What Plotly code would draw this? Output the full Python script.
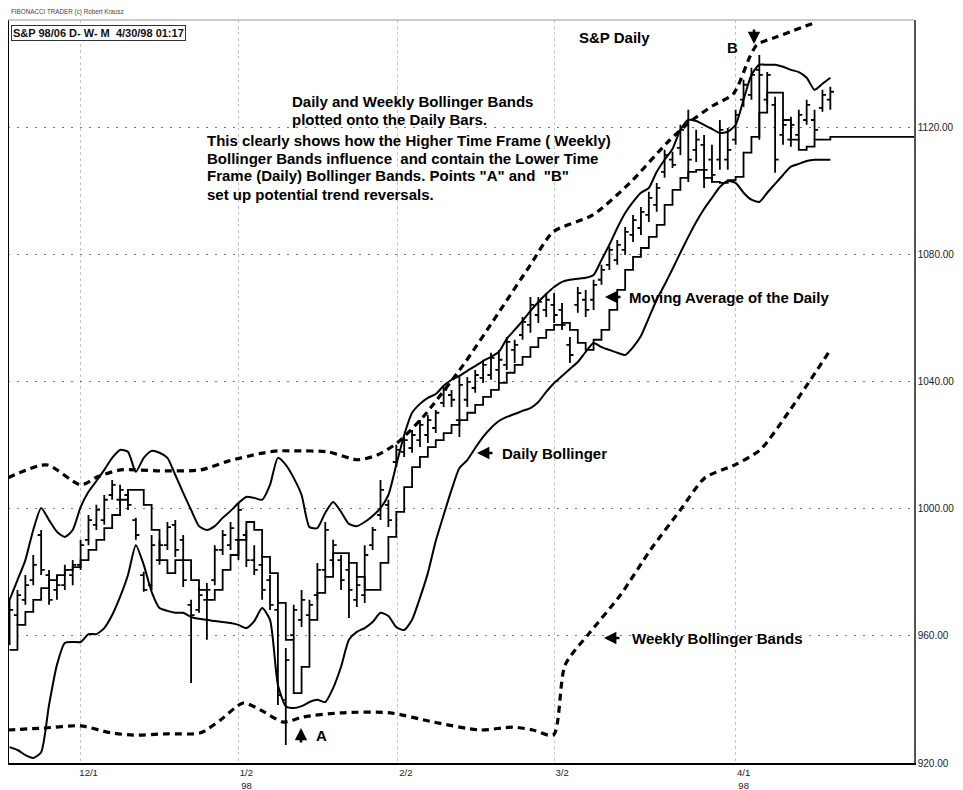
import plotly.graph_objects as go

# ---------------- data ----------------
bar_high = [971.4, 974.5, 979.2, 985.5, 993.4, 980.8, 979.2, 982.4, 983.9, 990.3,
            998.1, 1001.3, 1004.4, 1009.1, 1007.6, 1006.0, 997.2, 980.2, 991.8, 990.3,
            995.9, 996.5, 991.8, 971.4, 975.4, 976.7, 988.6, 993.4, 995.9, 1001.9,
            993.4, 988.6, 985.5, 979.2, 971.4, 956.2, 969.8, 974.5, 971.4, 983.0,
            995.9, 990.3, 985.5, 983.0, 978.6, 988.6, 994.3, 1009.1, 1002.9, 1020.2,
            1022.7, 1024.9, 1028.0, 1029.6, 1031.2, 1038.5, 1037.5, 1041.6, 1041.6, 1043.8,
            1047.0, 1049.2, 1050.1, 1054.2, 1053.3, 1060.5, 1066.8, 1066.8, 1068.0, 1068.0,
            1064.9, 1054.2, 1069.9, 1069.0, 1072.2, 1076.9, 1082.6, 1084.7, 1088.8, 1092.6,
            1095.1, 1099.9, 1102.7, 1113.1, 1112.5, 1121.0, 1125.7, 1119.4, 1117.8, 1114.7,
            1122.5, 1120.0, 1125.7, 1135.2, 1139.0, 1143.0, 1137.6, 1129.8, 1122.5, 1123.5,
            1125.7, 1128.9, 1125.7, 1132.0, 1133.0]
bar_low = [957.2, 963.5, 969.8, 976.0, 979.2, 969.8, 971.4, 974.5, 976.0, 980.8,
           988.6, 993.4, 995.0, 1002.9, 1001.3, 999.7, 990.3, 973.9, 974.5, 982.4,
           987.1, 984.9, 975.4, 945.2, 967.3, 958.8, 976.0, 985.5, 987.1, 983.9,
           981.7, 979.2, 971.4, 968.2, 938.3, 925.7, 958.8, 962.8, 965.1, 971.4,
           978.6, 981.7, 974.5, 965.7, 969.1, 970.4, 987.1, 996.5, 994.3, 1013.2,
           1016.4, 1017.7, 1019.5, 1020.8, 1023.9, 1032.1, 1032.1, 1022.7, 1032.1, 1036.6,
           1039.7, 1040.7, 1039.7, 1043.8, 1046.0, 1053.3, 1055.5, 1058.6, 1060.5, 1058.6,
           1056.4, 1046.0, 1061.8, 1060.5, 1062.7, 1070.6, 1075.3, 1076.9, 1080.0, 1084.1,
           1086.3, 1090.4, 1093.6, 1104.3, 1107.4, 1111.5, 1103.0, 1109.3, 1101.1, 1102.7,
           1106.8, 1106.8, 1114.7, 1126.6, 1128.9, 1116.3, 1127.3, 1105.9, 1114.7, 1114.1,
           1116.3, 1121.0, 1116.3, 1125.1, 1125.7]
bar_open = [958.8, 966.6, 971.4, 977.6, 991.8, 979.2, 974.5, 976.0, 979.2, 982.4,
            990.3, 995.0, 996.5, 1004.4, 1002.9, 1004.4, 996.5, 979.2, 976.0, 983.9,
            988.6, 995.0, 990.3, 969.8, 968.2, 971.4, 977.6, 987.1, 988.6, 990.3,
            991.8, 983.9, 982.4, 977.6, 968.2, 939.9, 960.3, 965.1, 966.6, 972.9,
            980.8, 983.9, 983.9, 980.8, 971.4, 972.9, 988.6, 998.1, 1001.3, 1014.8,
            1018.0, 1019.2, 1021.7, 1023.3, 1025.5, 1033.4, 1035.9, 1028.0, 1034.4, 1038.1,
            1041.3, 1042.2, 1043.8, 1045.4, 1050.1, 1054.8, 1058.0, 1061.1, 1062.7, 1064.3,
            1062.7, 1051.7, 1064.3, 1065.9, 1065.9, 1072.2, 1076.9, 1078.4, 1081.6, 1086.3,
            1088.5, 1092.6, 1095.8, 1106.2, 1110.0, 1113.7, 1121.0, 1113.1, 1114.7, 1110.0,
            1110.0, 1110.0, 1116.3, 1128.9, 1130.4, 1138.3, 1128.9, 1127.3, 1117.8, 1116.3,
            1117.8, 1122.5, 1122.5, 1126.3, 1128.9]
bar_close = [968.2, 972.9, 976.0, 982.4, 980.8, 971.4, 976.0, 980.8, 982.4, 988.6,
             996.5, 999.7, 1002.9, 1007.6, 1006.0, 1001.3, 991.8, 974.5, 988.6, 988.6,
             994.3, 987.1, 977.6, 966.6, 972.9, 974.5, 987.1, 991.8, 994.0, 999.7,
             983.9, 980.8, 974.5, 969.8, 941.4, 952.4, 968.2, 971.4, 969.8, 980.8,
             993.4, 988.6, 977.6, 974.5, 976.0, 985.5, 993.4, 1006.0, 996.5, 1018.6,
             1021.7, 1023.3, 1026.5, 1028.0, 1030.3, 1037.5, 1034.4, 1039.1, 1040.0, 1042.2,
             1045.4, 1047.6, 1047.0, 1052.6, 1051.7, 1058.9, 1064.3, 1065.2, 1065.9, 1061.1,
             1058.0, 1048.5, 1068.0, 1062.7, 1070.6, 1075.3, 1081.6, 1083.2, 1087.3, 1091.0,
             1093.6, 1098.0, 1101.1, 1111.5, 1108.4, 1119.4, 1110.0, 1116.3, 1106.8, 1105.2,
             1119.4, 1113.1, 1124.1, 1133.6, 1136.7, 1136.7, 1136.7, 1110.0, 1121.0, 1121.0,
             1124.1, 1127.3, 1119.4, 1130.4, 1131.4]

moving_avg = [955.6, 963.5, 967.6, 971.4, 975.1, 977.6, 979.2, 980.8, 981.7, 983.9,
              987.1, 990.3, 994.0, 998.1, 1002.9, 1006.0, 1006.0, 1001.3, 993.4, 983.9,
              979.8, 983.9, 983.9, 977.6, 974.5, 971.4, 974.5, 980.8, 985.5, 990.3,
              995.9, 993.4, 984.9, 979.8, 970.4, 958.8, 942.0, 950.3, 965.1, 973.6,
              978.6, 986.1, 986.1, 983.0, 978.6, 974.5, 974.5, 983.0, 991.2, 999.1,
              1006.9, 1013.2, 1016.4, 1019.5, 1021.7, 1023.9, 1026.5, 1028.0, 1030.3, 1032.8,
              1035.3, 1037.5, 1039.7, 1042.9, 1045.4, 1047.9, 1051.0, 1053.9, 1056.4, 1058.0,
              1058.6, 1056.4, 1052.3, 1050.1, 1053.3, 1056.4, 1062.7, 1069.0, 1075.3, 1079.4,
              1082.2, 1085.7, 1089.5, 1095.8, 1100.5, 1104.3, 1106.2, 1106.8, 1104.3, 1103.0,
              1102.7, 1103.6, 1104.6, 1112.2, 1117.2, 1124.8, 1131.1, 1131.1, 1122.5, 1116.3,
              1113.1, 1114.1, 1116.3, 1116.3, 1117.2]

daily_upper = [971.4, 977.6, 983.9, 993.4, 1000.3, 996.5, 992.8, 991.2, 993.4, 1000.6,
               1005.4, 1008.8, 1012.3, 1016.1, 1018.6, 1018.0, 1011.7, 1016.1, 1018.3, 1017.7,
               1016.1, 1010.7, 1005.1, 999.7, 994.6, 993.4, 994.6, 997.2, 999.4, 1001.9,
               1003.8, 1003.5, 1002.9, 1007.6, 1016.1, 1013.9, 1009.8, 1004.4, 994.3, 994.0,
               998.8, 1002.2, 999.1, 995.3, 994.6, 995.9, 997.8, 1000.3, 1004.4, 1013.9,
               1023.3, 1030.3, 1033.1, 1035.0, 1036.2, 1038.8, 1040.7, 1041.9, 1043.5, 1045.0,
               1046.6, 1047.9, 1049.5, 1053.6, 1056.4, 1059.2, 1062.4, 1065.2, 1067.7, 1069.9,
               1071.5, 1072.2, 1072.5, 1072.8, 1073.7, 1078.4, 1083.2, 1088.5, 1093.2, 1096.7,
               1099.6, 1101.1, 1106.2, 1110.0, 1113.4, 1119.4, 1122.5, 1122.2, 1121.0, 1119.7,
               1118.4, 1118.8, 1121.0, 1128.9, 1136.7, 1139.9, 1139.9, 1139.9, 1139.3, 1138.3,
               1137.6, 1135.8, 1132.0, 1133.9, 1135.8]
daily_lower = [925.0, 924.1, 922.5, 921.6, 923.4, 938.3, 950.9, 957.8, 958.1, 958.1,
               960.6, 960.6, 962.5, 966.6, 972.3, 979.2, 988.6, 982.4, 973.9, 968.8,
               967.9, 967.3, 967.3, 966.0, 965.4, 965.1, 964.7, 964.4, 964.1, 963.5,
               962.5, 964.7, 968.8, 965.1, 944.6, 937.9, 937.3, 937.9, 939.2, 939.9,
               939.2, 943.6, 950.3, 958.8, 961.3, 962.5, 964.4, 967.3, 966.3, 962.8,
               961.9, 965.1, 972.0, 979.8, 989.9, 998.1, 1006.0, 1012.9, 1015.4, 1019.2,
               1022.7, 1025.5, 1027.7, 1029.0, 1029.9, 1030.9, 1031.8, 1033.7, 1036.9, 1039.7,
               1041.9, 1044.1, 1046.3, 1049.5, 1052.3, 1051.0, 1050.1, 1049.2, 1048.5, 1051.0,
               1054.5, 1060.2, 1065.9, 1070.6, 1075.6, 1080.7, 1085.7, 1090.4, 1094.5, 1098.0,
               1101.4, 1103.3, 1102.7, 1099.6, 1097.4, 1096.7, 1099.6, 1102.4, 1105.2, 1107.8,
               1108.7, 1109.6, 1110.0, 1110.0, 1110.0]

weekly_upper_x = [-0.2, 4.7, 9.0, 11.2, 14.1, 19.1, 24.2, 27.6, 31.8, 34.0, 36.0, 40.3,
                  44.1, 46.6, 49.1, 52.4, 57.5, 62.2, 66.0, 68.9, 73.9, 78.6, 83.3, 86.2,
                  89.1, 91.7, 93.8, 94.7, 97.2, 102.3]
weekly_upper = [1009.8, 1013.9, 1007.6, 1010.2, 1012.3, 1012.0, 1012.3, 1015.0, 1017.5, 1018.3,
                1018.3, 1018.0, 1015.5, 1017.0, 1020.8, 1029.0, 1045.4, 1062.7, 1076.9, 1087.3,
                1092.6, 1102.7, 1115.3, 1121.9, 1127.0, 1130.7, 1142.4, 1146.2, 1148.7, 1153.4]
weekly_lower_x = [-0.2, 4.3, 9.0, 12.8, 15.7, 20.0, 24.2, 26.7, 29.6, 31.8, 34.7, 37.2,
                  41.9, 48.2, 53.7, 59.6, 63.8, 66.3, 68.9, 70.4, 73.6, 77.4, 81.2, 85.0,
                  88.1, 91.9, 95.1, 98.9, 104.0]
weekly_lower = [930.4, 931.0, 931.7, 929.5, 928.8, 929.2, 929.5, 933.5, 938.9, 936.7,
                932.9, 934.5, 935.8, 935.8, 932.9, 930.4, 931.3, 930.4, 928.8, 950.9,
                961.3, 972.9, 987.1, 999.7, 1009.8, 1013.9, 1018.6, 1031.2, 1050.1]

tick_pos = [9, 29, 49.2, 69, 92]
tick_text = ["12/1", "1/2<br>98", "2/2", "3/2", "4/1<br>98"]
price_ticks = [920, 960, 1000, 1040, 1080, 1120]

X_MIN, X_MAX = -0.2, 114.6
Y_MIN, Y_MAX = 920, 1154

# ---------------- figure ----------------
idx = list(range(len(bar_high)))
fig = go.Figure()

for wx, wy in ((weekly_upper_x, weekly_upper), (weekly_lower_x, weekly_lower)):
    fig.add_trace(go.Scatter(x=wx, y=wy, mode="lines", hoverinfo="skip",
                             line=dict(color="black", width=3.2, dash="7px,5px",
                                       shape="spline", smoothing=0.7)))

for band in (daily_upper, daily_lower):
    fig.add_trace(go.Scatter(x=idx, y=band, mode="lines", hoverinfo="skip",
                             line=dict(color="black", width=2, shape="spline", smoothing=0.6)))

fig.add_trace(go.Scatter(x=idx + [X_MAX], y=moving_avg + [moving_avg[-1]], mode="lines",
                         hoverinfo="skip", line=dict(color="black", width=1.8, shape="hv")))

fig.add_trace(go.Ohlc(x=idx, open=bar_open, high=bar_high, low=bar_low, close=bar_close,
                      increasing=dict(line=dict(color="black", width=1.8)),
                      decreasing=dict(line=dict(color="black", width=1.8)),
                      tickwidth=0.45, hoverinfo="skip"))

FONT = "Liberation Sans, Arial, DejaVu Sans, sans-serif"

# page -> paper helpers (plot area spans page x 8..914, y 20..763)
def px(xp):
    return (xp - 8) / 906.0


def py(yp):
    return (763 - yp) / 743.0


def label(text, x, y, size=15, anchor="left", color="black", **kw):
    d = dict(text=text, x=px(x), y=py(y), xanchor=anchor, yanchor="middle",
             xref="paper", yref="paper", showarrow=False,
             font=dict(size=size, color=color, family=FONT))
    d.update(kw)
    return d


def arrow(tip_x, tip_y, dx, dy):
    return dict(text="", x=px(tip_x), y=py(tip_y), xref="paper", yref="paper",
                showarrow=True, ax=dx, ay=dy, arrowhead=2, arrowsize=0.95,
                arrowwidth=2.6, arrowcolor="black")


annos = [
    label("FIBONACCI TRADER (c) Robert Krausz", 9, 12, size=6.3, color="#444"),
    label("<b>S&P 98/06 D- W- M  4/30/98 01:17</b>", 11, 33, size=11, color="#111",
          bordercolor="#333", borderwidth=1, borderpad=1, bgcolor="white"),
    label("<b>S&P Daily</b>", 614, 38, anchor="center"),
    label("<b>B</b>", 732, 48, anchor="center"),
    label("<b>Daily and Weekly Bollinger Bands</b>", 290, 101),
    label("<b>plotted onto the Daily Bars.</b>", 290, 119),
    label("<b>This clearly shows how the Higher Time Frame ( Weekly)</b>", 205, 140),
    label("<b>Bollinger Bands influence  and contain the Lower Time</b>", 205, 158),
    label("<b>Frame (Daily) Bollinger Bands. Points \"A\" and  \"B\"</b>", 205, 176),
    label("<b>set up potential trend reversals.</b>", 205, 194),
    label("<b>Moving Average of the Daily</b>", 627, 297),
    label("<b>Daily Bollinger</b>", 500, 453),
    label("<b>Weekly Bollinger Bands</b>", 630, 638),
    label("<b>A</b>", 321, 735, anchor="center"),
    arrow(605, 297, 17, 0),
    arrow(477, 453, 17, 0),
    arrow(604, 638, 17, 0),
    arrow(301, 728, 0, 16),
    arrow(754, 44, 0, -16),
]

shapes = [
    dict(type="line", xref="paper", yref="paper", x0=0, x1=0, y0=0, y1=1,
         line=dict(color="black", width=2)),
    dict(type="line", xref="paper", yref="paper", x0=0, x1=1, y0=1, y1=1,
         line=dict(color="#999", width=1)),
]

# the page body adds an 8px margin, so the figure is sized 8px smaller
fig.update_layout(
    width=955, height=782,
    margin=dict(l=0, r=49, t=12, b=27, autoexpand=False),
    paper_bgcolor="white", plot_bgcolor="white",
    showlegend=False,
    font=dict(family=FONT, color="#222"),
    annotations=annos, shapes=shapes,
    xaxis=dict(range=[X_MIN, X_MAX], tickmode="array", tickvals=tick_pos, ticktext=tick_text,
               showgrid=True, gridcolor="#c4c4c4", griddash="dot", gridwidth=1,
               showline=True, linecolor="black", linewidth=2, zeroline=False, automargin=False,
               ticks="", tickfont=dict(size=9.5, color="#222"), ticklabelshift=8,
               rangeslider=dict(visible=False), fixedrange=True),
    yaxis=dict(range=[Y_MIN, Y_MAX], side="right", tickmode="array", tickvals=price_ticks,
               tickformat=".2f", showgrid=True, gridcolor="#777", griddash="2px,7px",
               gridwidth=1, showline=True, linecolor="#555", linewidth=1.5, zeroline=False,
               automargin=False, ticks="", tickfont=dict(size=10, color="#222"),
               fixedrange=True),
)

fig.write_html("out.html")
